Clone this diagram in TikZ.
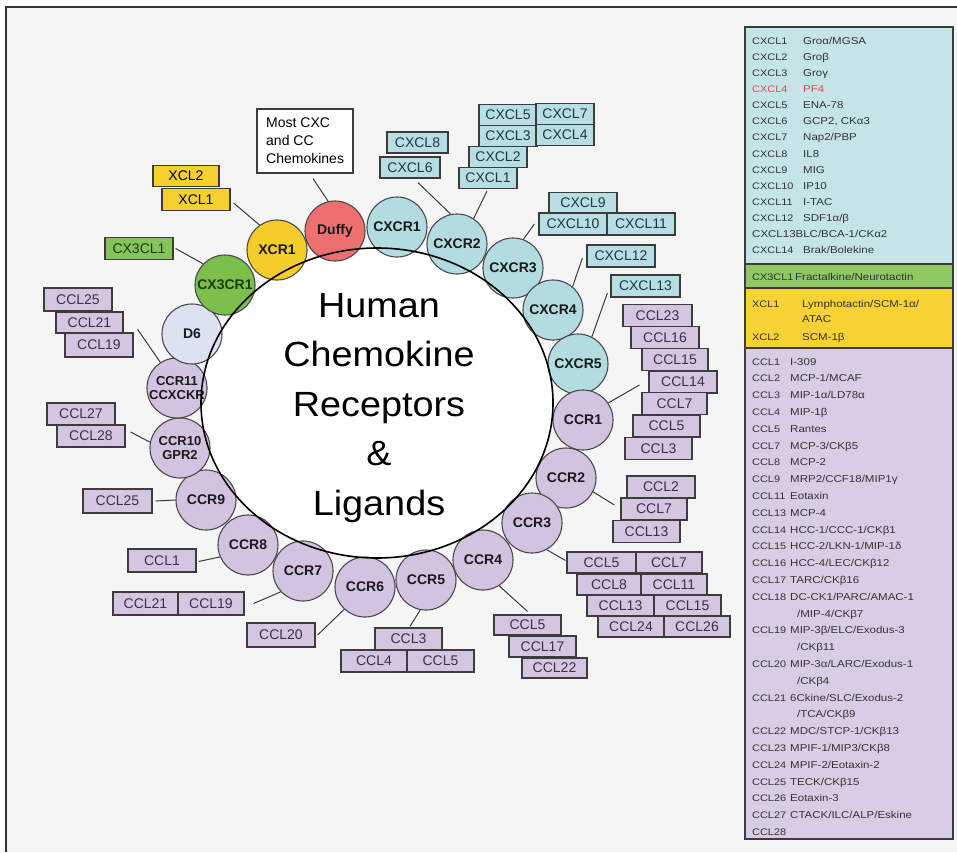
\documentclass[tikz,border=0pt]{standalone}
\usepackage{fontspec}
\setmainfont{Liberation Sans}
\newfontfamily\lgfont[FakeStretch=1.15]{Liberation Sans}
\newfontfamily\tfont[FakeStretch=1.08]{Liberation Sans}
\usetikzlibrary{calc}
\definecolor{bgc}{HTML}{F5F5F5}
\definecolor{framec}{HTML}{333333}
\definecolor{circline}{HTML}{4A4A4A}
\definecolor{boxline}{HTML}{3C3C3C}
\definecolor{connC}{HTML}{3A3A3A}
\definecolor{cyC}{HTML}{B3DCE0}
\definecolor{puC}{HTML}{D2C3E0}
\definecolor{yeC}{HTML}{F4CD2A}
\definecolor{grC}{HTML}{7BC04A}
\definecolor{duC}{HTML}{EE6F70}
\definecolor{d6C}{HTML}{DCE2F2}
\definecolor{cyB}{HTML}{B7DEE2}
\definecolor{puB}{HTML}{D4C6E1}
\definecolor{yeB}{HTML}{F5D02E}
\definecolor{grB}{HTML}{84C45A}
\definecolor{cyT}{HTML}{1E3A40}
\definecolor{puT}{HTML}{3A3048}
\definecolor{rtext}{HTML}{1A1A1A}
\definecolor{lcy}{HTML}{C5E4E8}
\definecolor{lgr}{HTML}{8DC860}
\definecolor{lye}{HTML}{F6D235}
\definecolor{lpu}{HTML}{D9CDE6}
\definecolor{lgtext}{HTML}{333333}
\definecolor{lred}{HTML}{E04848}
\definecolor{grtext}{HTML}{1F3A12}
\newcommand\lgrow[5]{\node[lgn] (#1a) at (752,#2) {#3}; \node[lgt] (#1b) at (#4,#2) {#5};}
\tikzset{
 rc/.style={circle, draw=circline, line width=1.1pt, minimum size=60pt, inner sep=0pt, align=center, font=\bfseries\fontsize{14}{15}\selectfont, text=rtext},
 cyr/.style={rc, fill=cyC},
 pur/.style={rc, fill=puC},
 lb/.style={rectangle, draw=boxline, line width=1.2pt, minimum width=67pt, minimum height=22pt, inner sep=0pt, font=\fontsize{14}{15}\selectfont},
 cyb/.style={lb, fill=cyB, text=cyT},
 pub/.style={lb, fill=puB, text=puT},
 conn/.style={draw=connC, line width=1pt},
 ttl/.style={anchor=base, inner sep=0pt, font=\tfont\fontsize{35}{40}\selectfont, text=black},
 lgt/.style={anchor=base west, inner sep=0pt, font=\lgfont\fontsize{10}{12}\selectfont, text=lgtext},
 lgn/.style={anchor=base west, inner sep=0pt, font=\lgfont\fontsize{9.5}{12}\selectfont, text=lgtext},
 panel/.style={draw=boxline, line width=1.4pt},
}
\begin{document}
\begin{tikzpicture}[x=1pt,y=-1pt]
\useasboundingbox (0,0) rectangle (957,852);
\fill[white] (0,0) rectangle (957,852);
\fill[bgc] (6,7) rectangle (957,852);
\draw[framec, line width=2pt] (6,852) -- (6,7) -- (957,7);

% big ellipse
\fill[white] (377,403) ellipse [x radius=176, y radius=155];

% ligand boxes
\node[rectangle, draw=boxline, fill=white, line width=1.2pt, minimum width=96pt, minimum height=64pt, inner sep=0pt] (most) at (305,141) {};
\node[anchor=base west, inner sep=0pt, font=\fontsize{14}{15}\selectfont] (mostt1) at (266,127) {Most CXC};
\node[anchor=base west, inner sep=0pt, font=\fontsize{14}{15}\selectfont] (mostt2) at (266,145) {and CC};
\node[anchor=base west, inner sep=0pt, font=\fontsize{14}{15}\selectfont] (mostt3) at (266,163) {Chemokines};

\node[lb, fill=yeB, minimum width=66pt, minimum height=21pt] (xcl2) at (186,176) {XCL2};
\node[lb, fill=yeB, minimum width=68pt] (xcl1) at (196,199.5) {XCL1};
\node[lb, fill=grB, text=grtext, minimum width=68pt] (cx3cl1) at (139,248.5) {CX3CL1};

\node[cyb, minimum width=61pt, minimum height=21pt] (cxcl8) at (417.5,142.5) {CXCL8};
\node[cyb, minimum width=60pt, minimum height=21pt] (cxcl6) at (410,167.5) {CXCL6};
\node[cyb, minimum width=58pt, minimum height=21pt] (cxcl5) at (508,115) {CXCL5};
\node[cyb, minimum width=58pt, minimum height=21pt] (cxcl7) at (565,114) {CXCL7};
\node[cyb, minimum width=58pt, minimum height=21pt] (cxcl3) at (508,136) {CXCL3};
\node[cyb, minimum width=58pt, minimum height=21pt] (cxcl4) at (565,135) {CXCL4};
\node[cyb, minimum width=58pt, minimum height=21pt] (cxcl2) at (498,157) {CXCL2};
\node[cyb, minimum width=58pt, minimum height=21pt] (cxcl1) at (488,178) {CXCL1};
\node[cyb, minimum width=68pt, minimum height=21pt] (cxcl9) at (583,203) {CXCL9};
\node[cyb, minimum width=68pt] (cxcl10) at (573,224) {CXCL10};
\node[cyb, minimum width=68pt] (cxcl11) at (641,224) {CXCL11};
\node[cyb, minimum width=68pt] (cxcl12) at (621,256) {CXCL12};
\node[cyb, minimum width=69pt] (cxcl13) at (645.5,286) {CXCL13};

\node[pub, minimum width=69pt] (aCCL23) at (657.5,315.5) {CCL23};
\node[pub, minimum width=68pt] (aCCL16) at (665,337.5) {CCL16};
\node[pub, minimum width=66pt] (aCCL15) at (675,359.5) {CCL15};
\node[pub, minimum width=68pt] (aCCL14) at (683,382) {CCL14};
\node[pub, minimum width=65pt] (aCCL7) at (674.5,403.5) {CCL7};
\node[pub, minimum width=67pt] (aCCL5) at (666.5,426) {CCL5};
\node[pub, minimum width=67pt] (aCCL3) at (658.5,448.5) {CCL3};

\node[pub, minimum width=68pt] (bCCL2) at (661,487) {CCL2};
\node[pub, minimum width=66pt] (bCCL7) at (654,509) {CCL7};
\node[pub, minimum width=67pt] (bCCL13) at (646.5,531.5) {CCL13};

\node[pub, minimum width=69pt, minimum height=21pt] (cCCL5) at (601.5,562.5) {CCL5};
\node[pub, minimum width=66pt, minimum height=21pt] (cCCL7) at (669,562.5) {CCL7};
\node[pub, minimum width=64pt, minimum height=21pt] (cCCL8) at (609,584.5) {CCL8};
\node[pub, minimum width=66pt, minimum height=21pt] (cCCL11) at (674,584.5) {CCL11};
\node[pub, minimum width=67pt, minimum height=21pt] (cCCL13) at (620.5,605.5) {CCL13};
\node[pub, minimum width=67pt, minimum height=21pt] (cCCL15) at (687.5,605.5) {CCL15};
\node[pub, minimum width=66pt, minimum height=21pt] (cCCL24) at (631,626.5) {CCL24};
\node[pub, minimum width=66pt, minimum height=21pt] (cCCL26) at (697,626.5) {CCL26};

\node[pub, minimum width=67pt, minimum height=20pt] (dCCL5) at (527.5,625) {CCL5};
\node[pub, minimum width=67pt, minimum height=21pt] (dCCL17) at (542.5,646.5) {CCL17};
\node[pub, minimum width=65pt, minimum height=20pt] (dCCL22) at (554.5,668) {CCL22};

\node[pub, minimum width=67pt] (eCCL3) at (408.5,639) {CCL3};
\node[pub, minimum width=66pt] (eCCL4) at (374,661) {CCL4};
\node[pub, minimum width=67pt] (eCCL5) at (440.5,661) {CCL5};

\node[pub, minimum width=68pt, minimum height=24pt] (fCCL20) at (281,635) {CCL20};
\node[pub, minimum width=65pt, minimum height=23pt] (gCCL21) at (145.5,603.5) {CCL21};
\node[pub, minimum width=66pt, minimum height=23pt] (gCCL19) at (211,603.5) {CCL19};
\node[pub, minimum width=68pt, minimum height=23pt] (hCCL1) at (162,560.5) {CCL1};
\node[pub, minimum width=69pt, minimum height=24pt] (iCCL25) at (117.5,501) {CCL25};
\node[pub, minimum width=68pt] (jCCL27) at (81,414) {CCL27};
\node[pub, minimum width=68pt] (jCCL28) at (91,436) {CCL28};
\node[pub, minimum width=68pt, minimum height=23pt] (kCCL25) at (78,299.5) {CCL25};
\node[pub, minimum width=67pt, minimum height=21pt] (kCCL21) at (89.5,322.5) {CCL21};
\node[pub, minimum width=68pt, minimum height=24pt] (kCCL19) at (99,345) {CCL19};

% receptors
\node[rc, fill=yeC] (xcr1) at (277,250) {XCR1};
\node[rc, fill=duC] (duffy) at (335,231) {Duffy};
\node[cyr] (cxcr1) at (397,227) {CXCR1};
\node[cyr] (cxcr2) at (457,244) {CXCR2};
\node[cyr] (cxcr3) at (513,268) {CXCR3};
\node[cyr] (cxcr4) at (553,310) {CXCR4};
\node[cyr] (cxcr5) at (578,364) {CXCR5};
\node[pur] (ccr1) at (583,420) {CCR1};
\node[pur] (ccr2) at (566,478) {CCR2};
\node[pur] (ccr3) at (532,523) {CCR3};
\node[pur] (ccr4) at (483,560) {CCR4};
\node[pur] (ccr5) at (426,580) {CCR5};
\node[pur] (ccr6) at (365,587) {CCR6};
\node[pur] (ccr7) at (303,571) {CCR7};
\node[pur] (ccr8) at (248,545) {CCR8};
\node[pur] (ccr9) at (206,500) {CCR9};
\node[pur, font=\bfseries\fontsize{13}{14}\selectfont] (ccr10) at (180,448) {CCR10\\GPR2};
\node[pur, font=\bfseries\fontsize{13}{14}\selectfont] (ccr11) at (177,388) {CCR11\\CCXCKR};
\node[rc, fill=d6C] (d6) at (192,334) {D6};
\node[rc, fill=grC, text=grtext] (cx3cr1) at (225,285) {CX3CR1};

% ellipse outline
\draw[black, line width=1.6pt] (377,403) ellipse [x radius=176, y radius=155];

% title
\node[ttl] (t1) at (379,317) {Human};
\node[ttl] (t2) at (379,366.5) {Chemokine};
\node[ttl] (t3) at (379,416) {Receptors};
\node[ttl] (t4) at (379,465.5) {\&};
\node[ttl] (t5) at (379,515) {Ligands};

% connectors
\draw[conn] ($(most.south)+(8,5)$) -- (duffy.103);
\draw[conn] ($(xcl1.east)+(3,3.5)$) -- (xcr1.125);
\draw[conn] ($(cx3cl1.east)+(2,0)$) -- (cx3cr1.136);
\draw[conn] ($(cxcl6.south)+(8,4)$) -- (cxcr2.102);
\draw[conn] ($(cxcl1.south)+(-1,2)$) -- (cxcr2.57);
\draw[conn] ($(cxcl10.west)+(-4,0)$) -- (cxcr3.70);
\draw[conn] ($(cxcl12.west)+(-4,2)$) -- (cxcr4.50);
\draw[conn] ($(cxcl13.west)+(-3,7)$) -- (cxcr5.63);
\draw[conn] ($(aCCL14.west)+(-9,3)$) -- (ccr1.34);
\draw[conn] ($(bCCL7.west)+(-6,-4)$) -- (ccr2.-27);
\draw[conn] ($(cCCL5.west)+(-1,-2)$) -- (ccr3.-61);
\draw[conn] ($(dCCL5.north)+(0,-3)$) -- (ccr4.-58);
\draw[conn] ($(eCCL3.north)+(1.5,-1)$) -- (ccr5.-101);
\draw[conn] ($(fCCL20.east)+(2,0)$) -- (ccr6.-133);
\draw[conn] ($(gCCL19.east)+(9,0)$) -- (ccr7.-137);
\draw[conn] ($(hCCL1.east)+(2,1)$) -- (ccr8.-157);
\draw[conn] ($(iCCL25.east)+(3,0)$) -- (ccr9.180);
\draw[conn] ($(jCCL28.east)+(5,-4)$) -- (ccr10.169);
\draw[conn] ($(kCCL19.north east)+(4,-3)$) -- (ccr11.123);

% legend panels
\draw[panel, fill=lcy] (745,27) rectangle (953,264);
\draw[panel, fill=lgr] (745,264) rectangle (953,288);
\draw[panel, fill=lye] (745,288) rectangle (953,348);
\draw[panel, fill=lpu] (745,348) rectangle (953,839);

\lgrow{x1}{44}{CXCL1}{803}{Groα/MGSA}
\lgrow{x2}{60.15}{CXCL2}{803}{Groβ}
\lgrow{x3}{76.3}{CXCL3}{803}{Groγ}
\node[lgn, text=lred] (x4a) at (752,92.45) {CXCL4};
\node[lgt, text=lred] (x4b) at (803,92.45) {PF4};
\lgrow{x5}{108.6}{CXCL5}{803}{ENA-78}
\lgrow{x6}{124.75}{CXCL6}{803}{GCP2, CKα3}
\lgrow{x7}{140.9}{CXCL7}{803}{Nap2/PBP}
\lgrow{x8}{157.05}{CXCL8}{803}{IL8}
\lgrow{x9}{173.2}{CXCL9}{803}{MIG}
\lgrow{x10}{189.35}{CXCL10}{803}{IP10}
\lgrow{x11}{205.5}{CXCL11}{803}{I-TAC}
\lgrow{x12}{221.65}{CXCL12}{803}{SDF1α/β}
\node[lgt] (x13a) at (752,237.8) {CXCL13BLC/BCA-1/CKα2};
\lgrow{x14}{253.95}{CXCL14}{803}{Brak/Bolekine}

\lgrow{f1}{280}{CX3CL1}{795}{Fractalkine/Neurotactin}
\lgrow{y1}{307}{XCL1}{802}{Lymphotactin/SCM-1α/}
\node[lgt] (y1c) at (802,322) {ATAC};
\lgrow{y2}{340}{XCL2}{802}{SCM-1β}

\lgrow{c1}{365}{CCL1}{790}{I-309}
\lgrow{c2}{381.8}{CCL2}{790}{MCP-1/MCAF}
\lgrow{c3}{398.6}{CCL3}{790}{MIP-1α/LD78α}
\lgrow{c4}{415.4}{CCL4}{790}{MIP-1β}
\lgrow{c5}{432.2}{CCL5}{790}{Rantes}
\lgrow{c7}{449}{CCL7}{790}{MCP-3/CKβ5}
\lgrow{c8}{465.8}{CCL8}{790}{MCP-2}
\lgrow{c9}{482.6}{CCL9}{790}{MRP2/CCF18/MIP1γ}
\lgrow{c11}{499.4}{CCL11}{790}{Eotaxin}
\lgrow{c13}{516.2}{CCL13}{790}{MCP-4}
\lgrow{c14}{533}{CCL14}{790}{HCC-1/CCC-1/CKβ1}
\lgrow{c15}{549.8}{CCL15}{790}{HCC-2/LKN-1/MIP-1δ}
\lgrow{c16}{566.6}{CCL16}{790}{HCC-4/LEC/CKβ12}
\lgrow{c17}{583.4}{CCL17}{790}{TARC/CKβ16}
\lgrow{c18}{600.2}{CCL18}{790}{DC-CK1/PARC/AMAC-1}
\node[lgt] (c18c) at (797,617) {/MIP-4/CKβ7};
\lgrow{c19}{633.8}{CCL19}{790}{MIP-3β/ELC/Exodus-3}
\node[lgt] (c19c) at (797,650.6) {/CKβ11};
\lgrow{c20}{667.4}{CCL20}{790}{MIP-3α/LARC/Exodus-1}
\node[lgt] (c20c) at (797,684.2) {/CKβ4};
\lgrow{c21}{701}{CCL21}{790}{6Ckine/SLC/Exodus-2}
\node[lgt] (c21c) at (797,717.8) {/TCA/CKβ9};
\lgrow{c22}{734.6}{CCL22}{790}{MDC/STCP-1/CKβ13}
\lgrow{c23}{751.4}{CCL23}{790}{MPIF-1/MIP3/CKβ8}
\lgrow{c24}{768.2}{CCL24}{790}{MPIF-2/Eotaxin-2}
\lgrow{c25}{785}{CCL25}{790}{TECK/CKβ15}
\lgrow{c26}{801.8}{CCL26}{790}{Eotaxin-3}
\lgrow{c27}{818.6}{CCL27}{790}{CTACK/ILC/ALP/Eskine}
\node[lgn] (c28a) at (752,835.4) {CCL28};
\end{tikzpicture}
\end{document}
